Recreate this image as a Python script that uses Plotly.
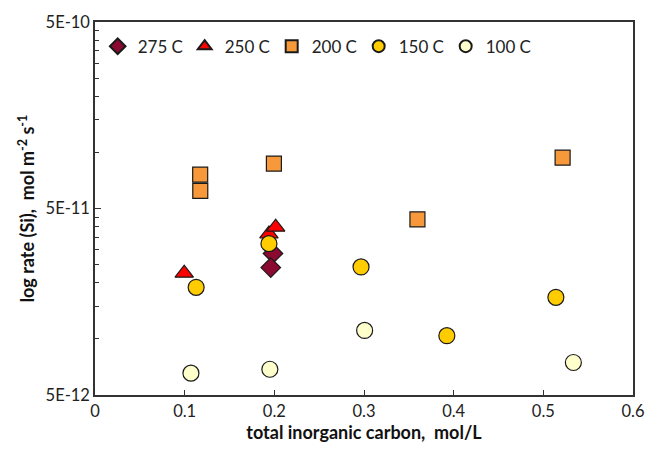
import plotly.graph_objects as go

# ---- data ----
x_275 = [0.1985, 0.196]
y_275 = [2.87e-11, 2.41e-11]

x_250 = [0.0995, 0.194, 0.2015]
y_250 = [2.25e-11, 3.65e-11, 3.97e-11]

x_200 = [0.1173, 0.1174, 0.1995, 0.3596, 0.5215]
y_200 = [7.59e-11, 6.22e-11, 8.71e-11, 4.37e-11, 9.37e-11]

x_150 = [0.1128, 0.194, 0.2967, 0.3924, 0.514]
y_150 = [1.89e-11, 3.24e-11, 2.43e-11, 1.04e-11, 1.67e-11]

x_100 = [0.107, 0.195, 0.3007, 0.5335]
y_100 = [6.55e-12, 6.87e-12, 1.11e-11, 7.47e-12]

x_ticks = [0, 0.1, 0.2, 0.3, 0.4, 0.5, 0.6]
x_tick_labels = ["0", "0.1", "0.2", "0.3", "0.4", "0.5", "0.6"]
y_ticks = [5e-12, 5e-11, 5e-10]
y_tick_labels = ["5E-12", "5E-11", "5E-10"]
y_minor = [5e-12 * k for k in range(2, 10)] + [5e-11 * k for k in range(2, 10)]

series = [
    ("275 C", x_275, y_275, "diamond", "#8B0A32", 15),
    ("250 C", x_250, y_250, "triangle-up", "#FF0000", 16),
    ("200 C", x_200, y_200, "square", "#F7993A", 15),
    ("150 C", x_150, y_150, "circle", "#FFCC00", 16),
    ("100 C", x_100, y_100, "circle", "#FFFFCC", 16),
]

fig = go.Figure()
for name, xs, ys, sym, col, sz in series:
    fig.add_trace(go.Scatter(
        x=xs, y=ys, mode="markers", name=name,
        marker=dict(symbol=sym, color=col, size=sz,
                    line=dict(color="#1a1a1a", width=1.2)),
    ))

font_family = "Lato, 'Open Sans', sans-serif"

fig.update_layout(
    width=657, height=450,
    margin=dict(l=95, r=14, t=20, b=50),
    paper_bgcolor="white", plot_bgcolor="white",
    font=dict(family=font_family, size=16, color="#222"),
    showlegend=True,
    legend=dict(
        orientation="h", x=0.005, y=0.934, xanchor="left", yanchor="middle",
        bgcolor="rgba(0,0,0,0)", font=dict(size=17, color="#222"),
        itemsizing="constant", entrywidth=42, entrywidthmode="pixels",
        tracegroupgap=0,
    ),
    xaxis=dict(
        range=[0, 0.6],
        tickmode="array", tickvals=x_ticks, ticktext=x_tick_labels,
        ticks="inside", ticklen=5, tickcolor="#333", tickwidth=1,
        showline=True, linecolor="#333", linewidth=1.5, mirror=True,
        showgrid=False, zeroline=False,
        tickfont=dict(size=16.5, color="#222"),
        title=dict(text="<b>total inorganic carbon,&nbsp;&nbsp;mol/L</b>",
                   font=dict(size=18, color="#111"), standoff=5),
    ),
    yaxis=dict(
        type="log", range=[-11.30103, -9.30103],
        tickmode="array", tickvals=y_ticks, ticktext=y_tick_labels,
        ticks="inside", ticklen=6, tickcolor="#333", tickwidth=1,
        minor=dict(tickmode="array", tickvals=y_minor, ticks="inside",
                   ticklen=4, tickcolor="#333", showgrid=False),
        showline=True, linecolor="#333", linewidth=1.5, mirror=True,
        showgrid=False, zeroline=False,
        tickfont=dict(size=16.5, color="#222"),
        title=dict(text="<b>log rate (Si),&nbsp;&nbsp;mol m<sup>-2</sup> s<sup>-1</sup></b>",
                   font=dict(size=18, color="#111"), standoff=6),
    ),
)

fig.write_html("out.html")
